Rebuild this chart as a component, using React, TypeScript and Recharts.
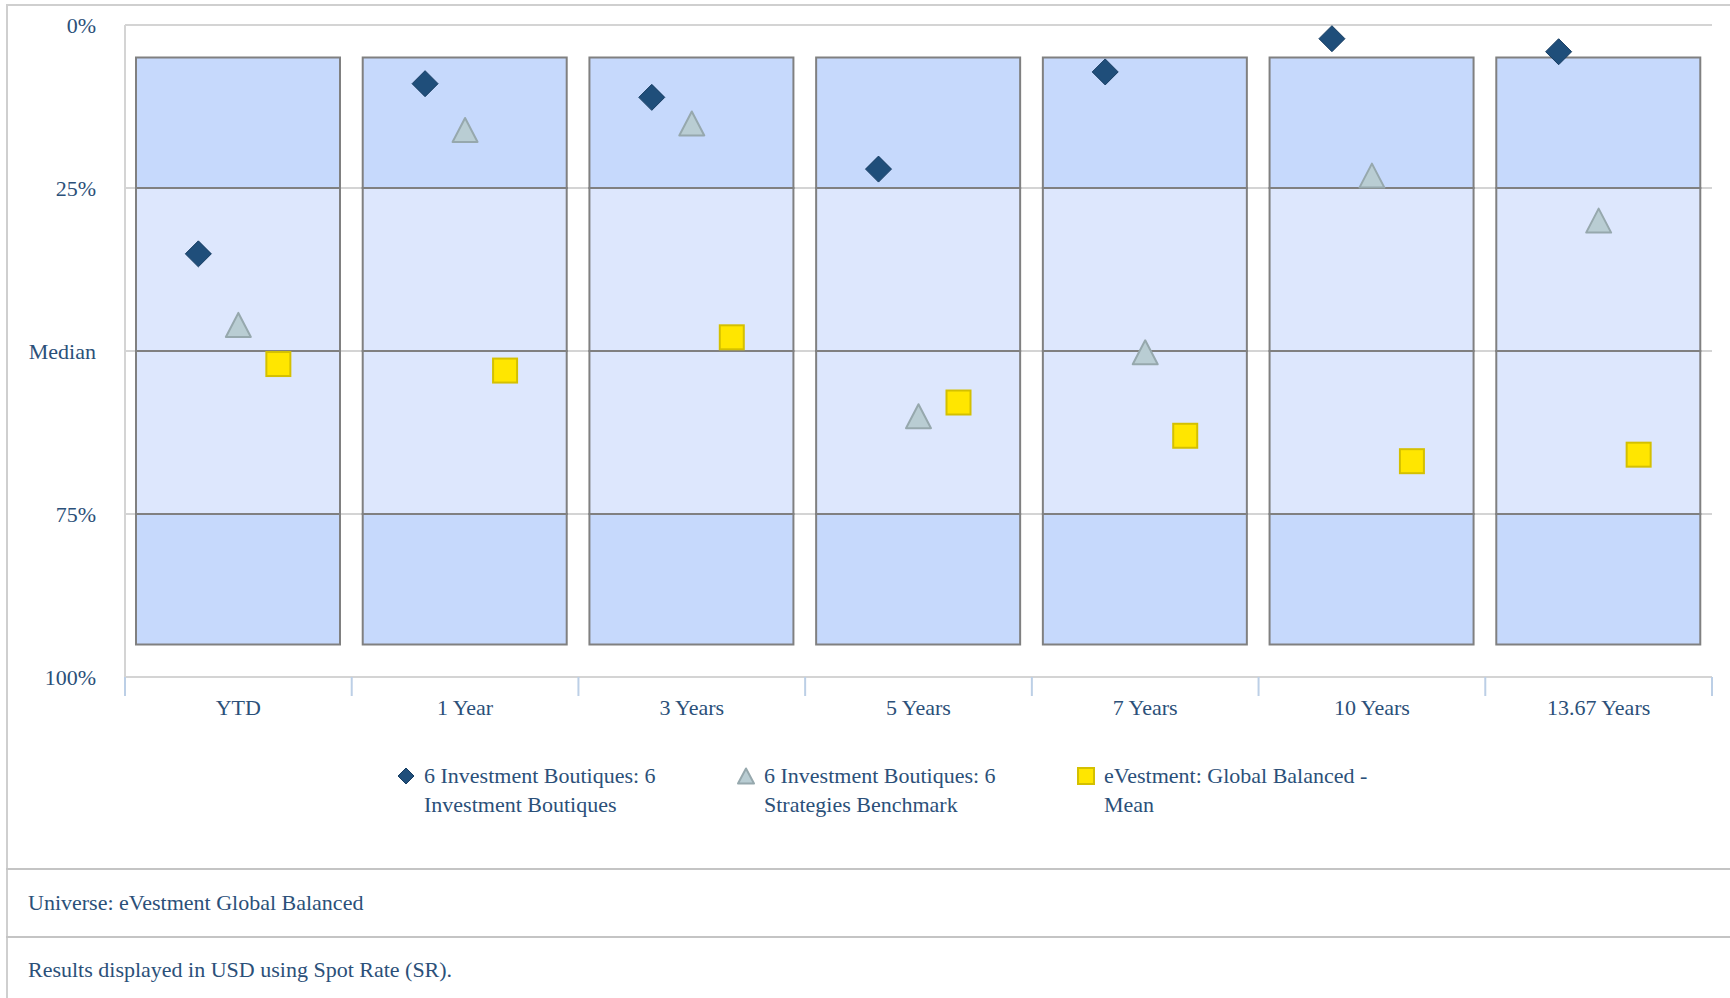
import React from 'react';
import {
    ComposedChart,
    Bar,
    Scatter,
    XAxis,
    YAxis,
    CartesianGrid
} from 'recharts';

const categories = ['YTD', '1 Year', '3 Years', '5 Years', '7 Years', '10 Years', '13.67 Years'];

// universe percentile breakpoints (0% = best)
const p5 = [5, 5, 5, 5, 5, 5, 5];
const p25 = [25, 25, 25, 25, 25, 25, 25];
const p50 = [50, 50, 50, 50, 50, 50, 50];
const p75 = [75, 75, 75, 75, 75, 75, 75];
const p95 = [95, 95, 95, 95, 95, 95, 95];

// percentile ranks
const boutiques = [35.1, 9.0, 11.1, 22.1, 7.2, 2.1, 4.1];
const benchmark = [46.0, 16.1, 15.1, 60.0, 50.2, 23.1, 30.0];
const universeMean = [52.0, 53.0, 47.9, 57.9, 63.0, 66.9, 65.9];

const yTicks = [0, 25, 50, 75, 100];
const yTickLabels = ['0%', '25%', 'Median', '75%', '100%'];

const seriesNames = [
    ['6 Investment Boutiques: 6', 'Investment Boutiques'],
    ['6 Investment Boutiques: 6', 'Strategies Benchmark'],
    ['eVestment: Global Balanced -', 'Mean']
];

const data = categories.map((name, i) => ({
    name,
    base: p5[i],
    q1: p25[i] - p5[i],
    q2: p50[i] - p25[i],
    q3: p75[i] - p50[i],
    q4: p95[i] - p75[i],
    boutiques: boutiques[i],
    benchmark: benchmark[i],
    mean: universeMean[i]
}));

const FONT = '"Liberation Serif", "Times New Roman", serif';
const TEXT = '#2b5079';
const GRID = '#d4d4d4';
const OUTER = '#c6d9fc';
const INNER = '#dde7fd';
const BOX_STROKE = '#808080';
const DIAMOND = '#1f4e7a';
const TRI = '#b9cdd3';
const SQUARE = '#ffe600';

const MARK_SHIFT = 40;

const DiamondShape = (props: any) => {
    const { cx, cy } = props;
    if (cx == null || cy == null) return null;
    const x = cx - MARK_SHIFT;
    const r = 13;
    return (
        <polygon
            points={`${x},${cy - r} ${x + r},${cy} ${x},${cy + r} ${x - r},${cy}`}
            fill={DIAMOND}
            stroke="#173d62"
            strokeWidth={1}
        />
    );
};

const TriangleShape = (props: any) => {
    const { cx, cy } = props;
    if (cx == null || cy == null) return null;
    const h = 24;
    const w = 25;
    return (
        <polygon
            points={`${cx},${cy - h / 2} ${cx + w / 2},${cy + h / 2} ${cx - w / 2},${cy + h / 2}`}
            fill={TRI}
            stroke="#96a8ad"
            strokeWidth={2}
            strokeLinejoin="round"
        />
    );
};

const SquareShape = (props: any) => {
    const { cx, cy } = props;
    if (cx == null || cy == null) return null;
    const s = 24;
    return (
        <rect
            x={cx + MARK_SHIFT - s / 2}
            y={cy - s / 2}
            width={s}
            height={s}
            fill={SQUARE}
            stroke="#d4c000"
            strokeWidth={2}
        />
    );
};

const CategoryTick = (props: any) => {
    const { x, y, payload, index } = props;
    const half = payload && payload.offset ? payload.offset : 113.3;
    return (
        <g>
            <line x1={x - half} y1={y} x2={x - half} y2={y + 19} stroke="#bccfe6" strokeWidth={2} />
            {index === categories.length - 1 && (
                <line x1={x + half} y1={y} x2={x + half} y2={y + 19} stroke="#bccfe6" strokeWidth={2} />
            )}
            <text
                x={x}
                y={y + 38}
                textAnchor="middle"
                fill={TEXT}
                fontSize={22}
                fontFamily={FONT}
            >
                {payload.value}
            </text>
        </g>
    );
};

const LegendIcon = ({ kind }: { kind: number }) => {
    if (kind === 0) {
        return (
            <svg width={18} height={18}>
                <polygon points="9,1 17,9 9,17 1,9" fill={DIAMOND} stroke="#173d62" strokeWidth={1} />
            </svg>
        );
    }
    if (kind === 1) {
        return (
            <svg width={18} height={18}>
                <polygon points="9,1.5 17,16.5 1,16.5" fill={TRI} stroke="#96a8ad" strokeWidth={2} strokeLinejoin="round" />
            </svg>
        );
    }
    return (
        <svg width={18} height={18}>
            <rect x={1} y={1} width={16} height={16} fill={SQUARE} stroke="#d4c000" strokeWidth={2} />
        </svg>
    );
};

const legendX = [406, 746, 1086];

export default function App() {
    return (
        <div
            style={{
                position: 'absolute',
                left: 0,
                top: 0,
                width: 1730,
                height: 998,
                overflow: 'hidden',
                background: '#fff',
                fontFamily: FONT
            }}
        >
            {/* frame */}
            <div
                style={{
                    position: 'absolute',
                    left: 6,
                    top: 4,
                    width: 1800,
                    height: 1100,
                    borderTop: '2px solid #cfcfcf',
                    borderLeft: '2px solid #cfcfcf'
                }}
            />
            <div style={{ position: 'absolute', left: 6, top: 868, width: 1800, height: 2, background: '#c4c4c4' }} />
            <div style={{ position: 'absolute', left: 6, top: 936, width: 1800, height: 2, background: '#c4c4c4' }} />

            <div style={{ position: 'absolute', left: 0, top: 1 }}>
                <ComposedChart
                    width={1730}
                    height={720}
                    data={data}
                    margin={{ top: 24, right: 18, left: 0, bottom: 4 }}
                    barCategoryGap={0}
                >
                    <CartesianGrid vertical={false} stroke={GRID} strokeWidth={2} />
                    <XAxis
                        dataKey="name"
                        height={40}
                        axisLine={{ stroke: GRID, strokeWidth: 2 }}
                        tickLine={false}
                        tickSize={0}
                        tickMargin={0}
                        interval={0}
                        tick={<CategoryTick />}
                    />
                    <YAxis
                        type="number"
                        domain={[0, 100]}
                        reversed
                        ticks={yTicks}
                        width={125}
                        tickLine={false}
                        tickSize={0}
                        tickMargin={29}
                        axisLine={{ stroke: GRID, strokeWidth: 2 }}
                        tickFormatter={(v: number) => yTickLabels[yTicks.indexOf(v)]}
                        tick={{ fill: TEXT, fontSize: 22, fontFamily: FONT }}
                    />
                    <Bar dataKey="base" stackId="box" barSize={204} fill="transparent" stroke="none" isAnimationActive={false} />
                    <Bar dataKey="q1" stackId="box" barSize={204} fill={OUTER} stroke={BOX_STROKE} strokeWidth={2} isAnimationActive={false} />
                    <Bar dataKey="q2" stackId="box" barSize={204} fill={INNER} stroke={BOX_STROKE} strokeWidth={2} isAnimationActive={false} />
                    <Bar dataKey="q3" stackId="box" barSize={204} fill={INNER} stroke={BOX_STROKE} strokeWidth={2} isAnimationActive={false} />
                    <Bar dataKey="q4" stackId="box" barSize={204} fill={OUTER} stroke={BOX_STROKE} strokeWidth={2} isAnimationActive={false} />
                    <Scatter dataKey="boutiques" shape={DiamondShape} isAnimationActive={false} />
                    <Scatter dataKey="benchmark" shape={TriangleShape} isAnimationActive={false} />
                    <Scatter dataKey="mean" shape={SquareShape} isAnimationActive={false} />
                </ComposedChart>
            </div>

            {/* legend */}
            {seriesNames.map((lines, i) => (
                <div key={i}>
                    <div style={{ position: 'absolute', left: legendX[i] - 9, top: 767, width: 18, height: 18 }}>
                        <LegendIcon kind={i} />
                    </div>
                    <div
                        style={{
                            position: 'absolute',
                            left: legendX[i] + 18,
                            top: 761,
                            fontSize: 22,
                            lineHeight: '29px',
                            color: TEXT,
                            whiteSpace: 'nowrap'
                        }}
                    >
                        {lines[0]}
                        <br />
                        {lines[1]}
                    </div>
                </div>
            ))}

            <div style={{ position: 'absolute', left: 28, top: 891, fontSize: 22, lineHeight: '24px', color: TEXT, whiteSpace: 'nowrap' }}>
                Universe: eVestment Global Balanced
            </div>
            <div style={{ position: 'absolute', left: 28, top: 958, fontSize: 22, lineHeight: '24px', color: TEXT, whiteSpace: 'nowrap' }}>
                Results displayed in USD using Spot Rate (SR).
            </div>
        </div>
    );
}
